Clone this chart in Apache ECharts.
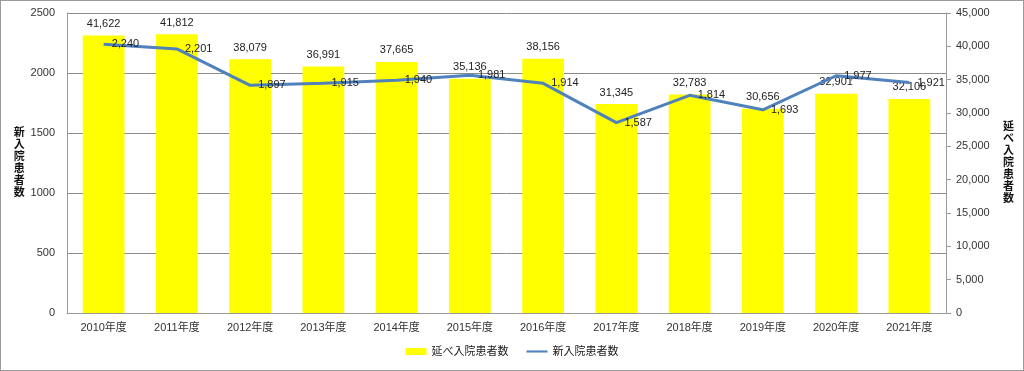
<!DOCTYPE html>
<html>
<head>
<meta charset="utf-8">
<script src="https://cdn.jsdelivr.net/npm/echarts@6/dist/echarts.min.js"></script>
<style>
html,body{margin:0;padding:0;background:#fff;}
#c{width:1024px;height:371px;box-sizing:border-box;border:1px solid #9a9a9a;}
</style>
</head>
<body>
<div id="c"></div>
<script>
const categories = ['2010年度','2011年度','2012年度','2013年度','2014年度','2015年度','2016年度','2017年度','2018年度','2019年度','2020年度','2021年度'];
const totalInpatients = [41622, 41812, 38079, 36991, 37665, 35136, 38156, 31345, 32783, 30656, 32901, 32106];
const newInpatients = [2240, 2201, 1897, 1915, 1940, 1981, 1914, 1587, 1814, 1693, 1977, 1921];
const barName = '延べ入院患者数';
const lineName = '新入院患者数';

const FONT = '"Liberation Sans", "Noto Sans CJK JP", sans-serif';
const fmt = v => v.toLocaleString('en-US');
const vert = s => s.split('').join('\n');

const chart = echarts.init(document.getElementById('c'), null, {renderer: 'canvas'});
chart.setOption({
  animation: false,
  textStyle: {fontFamily: FONT},
  grid: {left: 66, right: 77, top: 12, bottom: 57, containLabel: false},
  legend: {
    bottom: 8, left: 'center', itemGap: 18,
    textStyle: {fontSize: 11, color: '#222', fontFamily: FONT},
    data: [
      {name: barName, icon: 'rect', itemStyle: {color: '#FFFF00'}},
      {name: lineName, icon: 'path://M0,0 L30,0 L30,3 L0,3 Z', itemStyle: {color: '#4F81BD'}}
    ],
    itemWidth: 21, itemHeight: 7
  },
  xAxis: {
    type: 'category', data: categories,
    axisLine: {lineStyle: {color: '#9a9a9a'}},
    axisTick: {show: false},
    axisLabel: {fontSize: 11, color: '#333', margin: 9, fontFamily: FONT}
  },
  yAxis: [
    {
      type: 'value', min: 0, max: 2500, interval: 500, position: 'left',
      name: vert(lineName), nameLocation: 'middle', nameGap: 36, nameRotate: 0,
      nameTextStyle: {fontSize: 11, fontWeight: 'bold', color: '#111', lineHeight: 12, fontFamily: FONT},
      axisLine: {show: true, lineStyle: {color: '#9a9a9a'}},
      axisTick: {show: false},
      splitLine: {lineStyle: {color: '#8c8c8c', width: 1}},
      axisLabel: {fontSize: 11, color: '#333', margin: 12, formatter: v => String(v), fontFamily: FONT}
    },
    {
      type: 'value', min: 0, max: 45000, interval: 5000, position: 'right',
      name: vert(barName), nameLocation: 'middle', nameGap: 57, nameRotate: 0,
      nameTextStyle: {fontSize: 11, fontWeight: 'bold', color: '#111', lineHeight: 12, fontFamily: FONT},
      axisLine: {show: true, lineStyle: {color: '#9a9a9a'}},
      axisTick: {show: true, inside: false, length: 5, lineStyle: {color: '#9a9a9a'}},
      splitLine: {show: false},
      axisLabel: {fontSize: 11, color: '#333', margin: 10, formatter: v => fmt(v), fontFamily: FONT}
    }
  ],
  series: [
    {
      name: barName, type: 'bar', yAxisIndex: 1, data: totalInpatients,
      barWidth: '57%',
      itemStyle: {color: '#FFFF00'},
      label: {show: true, position: 'top', distance: 6, fontSize: 11, color: '#222', formatter: p => fmt(p.value), fontFamily: FONT}
    },
    {
      name: lineName, type: 'line', yAxisIndex: 0, data: newInpatients,
      showSymbol: true, symbol: 'circle', symbolSize: 0,
      lineStyle: {color: '#4F81BD', width: 3},
      itemStyle: {color: '#4F81BD'},
      label: {show: true, position: 'right', distance: 8, offset: [0, 5], fontSize: 11, color: '#222', formatter: p => fmt(p.value), fontFamily: FONT},
      labelLayout: {hideOverlap: false},
      z: 5
    }
  ]
});
</script>
</body>
</html>
